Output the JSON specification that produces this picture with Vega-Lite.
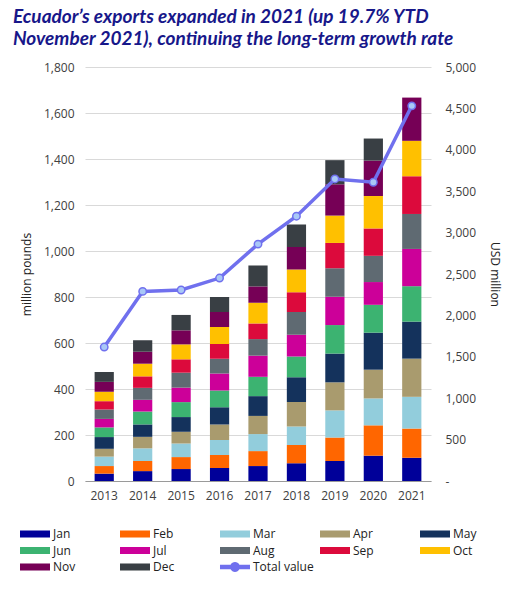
{
  "$schema": "https://vega.github.io/schema/vega-lite/v6.json",
  "width": 346,
  "height": 414,
  "autosize": {"type": "none"},
  "padding": {"left": 85, "top": 67, "right": 79, "bottom": 110},
  "background": "white",
  "title": {
    "text": ["Ecuador’s exports expanded in 2021 (up 19.7% YTD", "November 2021), continuing the long-term growth rate"],
    "anchor": "start",
    "frame": "group",
    "dx": -72,
    "offset": 12,
    "font": "Lato",
    "fontSize": 19,
    "fontStyle": "italic",
    "fontWeight": "bold",
    "color": "#17178a",
    "lineHeight": 22
  },
  "config": {
    "view": {"stroke": null},
    "axis": {"labelFont": "Open Sans", "titleFont": "Open Sans", "labelFontSize": 12, "titleFontSize": 12, "labelColor": "#404040", "titleColor": "#222222", "titleFontWeight": "normal"}
  },
  "datasets": {
    "monthly": [
      {"year": 2013, "month": "Jan", "m": 1, "value": 32},
      {"year": 2013, "month": "Feb", "m": 2, "value": 33},
      {"year": 2013, "month": "Mar", "m": 3, "value": 41},
      {"year": 2013, "month": "Apr", "m": 4, "value": 34},
      {"year": 2013, "month": "May", "m": 5, "value": 51},
      {"year": 2013, "month": "Jun", "m": 6, "value": 42},
      {"year": 2013, "month": "Jul", "m": 7, "value": 37},
      {"year": 2013, "month": "Aug", "m": 8, "value": 41},
      {"year": 2013, "month": "Sep", "m": 9, "value": 36},
      {"year": 2013, "month": "Oct", "m": 10, "value": 41},
      {"year": 2013, "month": "Nov", "m": 11, "value": 43},
      {"year": 2013, "month": "Dec", "m": 12, "value": 43},
      {"year": 2014, "month": "Jan", "m": 1, "value": 43},
      {"year": 2014, "month": "Feb", "m": 2, "value": 44},
      {"year": 2014, "month": "Mar", "m": 3, "value": 55},
      {"year": 2014, "month": "Apr", "m": 4, "value": 50},
      {"year": 2014, "month": "May", "m": 5, "value": 54},
      {"year": 2014, "month": "Jun", "m": 6, "value": 56},
      {"year": 2014, "month": "Jul", "m": 7, "value": 51},
      {"year": 2014, "month": "Aug", "m": 8, "value": 52},
      {"year": 2014, "month": "Sep", "m": 9, "value": 50},
      {"year": 2014, "month": "Oct", "m": 10, "value": 55},
      {"year": 2014, "month": "Nov", "m": 11, "value": 52},
      {"year": 2014, "month": "Dec", "m": 12, "value": 50},
      {"year": 2015, "month": "Jan", "m": 1, "value": 52},
      {"year": 2015, "month": "Feb", "m": 2, "value": 52},
      {"year": 2015, "month": "Mar", "m": 3, "value": 59},
      {"year": 2015, "month": "Apr", "m": 4, "value": 51},
      {"year": 2015, "month": "May", "m": 5, "value": 64},
      {"year": 2015, "month": "Jun", "m": 6, "value": 65},
      {"year": 2015, "month": "Jul", "m": 7, "value": 63},
      {"year": 2015, "month": "Aug", "m": 8, "value": 65},
      {"year": 2015, "month": "Sep", "m": 9, "value": 58},
      {"year": 2015, "month": "Oct", "m": 10, "value": 65},
      {"year": 2015, "month": "Nov", "m": 11, "value": 61},
      {"year": 2015, "month": "Dec", "m": 12, "value": 67},
      {"year": 2016, "month": "Jan", "m": 1, "value": 56},
      {"year": 2016, "month": "Feb", "m": 2, "value": 57},
      {"year": 2016, "month": "Mar", "m": 3, "value": 65},
      {"year": 2016, "month": "Apr", "m": 4, "value": 68},
      {"year": 2016, "month": "May", "m": 5, "value": 75},
      {"year": 2016, "month": "Jun", "m": 6, "value": 72},
      {"year": 2016, "month": "Jul", "m": 7, "value": 74},
      {"year": 2016, "month": "Aug", "m": 8, "value": 64},
      {"year": 2016, "month": "Sep", "m": 9, "value": 65},
      {"year": 2016, "month": "Oct", "m": 10, "value": 74},
      {"year": 2016, "month": "Nov", "m": 11, "value": 65},
      {"year": 2016, "month": "Dec", "m": 12, "value": 65},
      {"year": 2017, "month": "Jan", "m": 1, "value": 65},
      {"year": 2017, "month": "Feb", "m": 2, "value": 65},
      {"year": 2017, "month": "Mar", "m": 3, "value": 74},
      {"year": 2017, "month": "Apr", "m": 4, "value": 79},
      {"year": 2017, "month": "May", "m": 5, "value": 86},
      {"year": 2017, "month": "Jun", "m": 6, "value": 84},
      {"year": 2017, "month": "Jul", "m": 7, "value": 92},
      {"year": 2017, "month": "Aug", "m": 8, "value": 72},
      {"year": 2017, "month": "Sep", "m": 9, "value": 68},
      {"year": 2017, "month": "Oct", "m": 10, "value": 90},
      {"year": 2017, "month": "Nov", "m": 11, "value": 71},
      {"year": 2017, "month": "Dec", "m": 12, "value": 91},
      {"year": 2018, "month": "Jan", "m": 1, "value": 77},
      {"year": 2018, "month": "Feb", "m": 2, "value": 79},
      {"year": 2018, "month": "Mar", "m": 3, "value": 81},
      {"year": 2018, "month": "Apr", "m": 4, "value": 107},
      {"year": 2018, "month": "May", "m": 5, "value": 107},
      {"year": 2018, "month": "Jun", "m": 6, "value": 90},
      {"year": 2018, "month": "Jul", "m": 7, "value": 95},
      {"year": 2018, "month": "Aug", "m": 8, "value": 99},
      {"year": 2018, "month": "Sep", "m": 9, "value": 86},
      {"year": 2018, "month": "Oct", "m": 10, "value": 99},
      {"year": 2018, "month": "Nov", "m": 11, "value": 97},
      {"year": 2018, "month": "Dec", "m": 12, "value": 98},
      {"year": 2019, "month": "Jan", "m": 1, "value": 87},
      {"year": 2019, "month": "Feb", "m": 2, "value": 102},
      {"year": 2019, "month": "Mar", "m": 3, "value": 118},
      {"year": 2019, "month": "Apr", "m": 4, "value": 122},
      {"year": 2019, "month": "May", "m": 5, "value": 125},
      {"year": 2019, "month": "Jun", "m": 6, "value": 124},
      {"year": 2019, "month": "Jul", "m": 7, "value": 123},
      {"year": 2019, "month": "Aug", "m": 8, "value": 124},
      {"year": 2019, "month": "Sep", "m": 9, "value": 110},
      {"year": 2019, "month": "Oct", "m": 10, "value": 119},
      {"year": 2019, "month": "Nov", "m": 11, "value": 136},
      {"year": 2019, "month": "Dec", "m": 12, "value": 105},
      {"year": 2020, "month": "Jan", "m": 1, "value": 110},
      {"year": 2020, "month": "Feb", "m": 2, "value": 132},
      {"year": 2020, "month": "Mar", "m": 3, "value": 117},
      {"year": 2020, "month": "Apr", "m": 4, "value": 125},
      {"year": 2020, "month": "May", "m": 5, "value": 161},
      {"year": 2020, "month": "Jun", "m": 6, "value": 121},
      {"year": 2020, "month": "Jul", "m": 7, "value": 99},
      {"year": 2020, "month": "Aug", "m": 8, "value": 114},
      {"year": 2020, "month": "Sep", "m": 9, "value": 119},
      {"year": 2020, "month": "Oct", "m": 10, "value": 141},
      {"year": 2020, "month": "Nov", "m": 11, "value": 154},
      {"year": 2020, "month": "Dec", "m": 12, "value": 96},
      {"year": 2021, "month": "Jan", "m": 1, "value": 101},
      {"year": 2021, "month": "Feb", "m": 2, "value": 127},
      {"year": 2021, "month": "Mar", "m": 3, "value": 138},
      {"year": 2021, "month": "Apr", "m": 4, "value": 166},
      {"year": 2021, "month": "May", "m": 5, "value": 161},
      {"year": 2021, "month": "Jun", "m": 6, "value": 154},
      {"year": 2021, "month": "Jul", "m": 7, "value": 162},
      {"year": 2021, "month": "Aug", "m": 8, "value": 152},
      {"year": 2021, "month": "Sep", "m": 9, "value": 164},
      {"year": 2021, "month": "Oct", "m": 10, "value": 154},
      {"year": 2021, "month": "Nov", "m": 11, "value": 188}
    ],
    "totals": [
      {"year": 2013, "usd": 1618},
      {"year": 2014, "usd": 2290},
      {"year": 2015, "usd": 2307},
      {"year": 2016, "usd": 2451},
      {"year": 2017, "usd": 2861},
      {"year": 2018, "usd": 3198},
      {"year": 2019, "usd": 3648},
      {"year": 2020, "usd": 3608},
      {"year": 2021, "usd": 4531}
    ]
  },
  "encoding": {
    "x": {
      "field": "year",
      "type": "ordinal",
      "scale": {"paddingInner": 0.5, "paddingOuter": 0.25},
      "axis": {"title": null, "labelAngle": 0, "ticks": false, "domainColor": "#9a9a9a", "labelPadding": 9, "grid": false}
    }
  },
  "layer": [
    {
      "data": {"name": "monthly"},
      "mark": {"type": "bar"},
      "encoding": {
        "y": {
          "field": "value",
          "type": "quantitative",
          "stack": "zero",
          "scale": {"domain": [0, 1800]},
          "axis": {
            "title": "million pounds",
            "values": [0, 200, 400, 600, 800, 1000, 1200, 1400, 1600, 1800],
            "format": ",.0f",
            "domain": false,
            "ticks": false,
            "labelPadding": 11,
            "titlePadding": 10,
            "gridColor": "#d9d9d9"
          }
        },
        "color": {
          "field": "month",
          "type": "nominal",
          "scale": {
            "domain": ["Jan", "Feb", "Mar", "Apr", "May", "Jun", "Jul", "Aug", "Sep", "Oct", "Nov", "Dec", "Total value"],
            "range": ["#000099", "#ff6600", "#92cddc", "#a99b6e", "#14325c", "#3cb371", "#cc0099", "#5f6a72", "#dc0a3c", "#ffc000", "#760056", "#393f44", "#7070ee"]
          },
          "legend": {
            "title": null,
            "orient": "none",
            "legendX": -59,
            "legendY": 458,
            "direction": "horizontal",
            "columns": 5,
            "gridAlign": "all",
            "columnPadding": 5,
            "rowPadding": 1.5,
            "symbolSize": 324,
            "labelOffset": 9,
            "labelFont": "Open Sans",
            "labelFontSize": 12,
            "labelColor": "#222222",
            "encode": {
              "symbols": {
                "update": {
                  "shape": {"signal": "datum.value === 'Total value' ? 'M-1.667,-0.25H-0.49A0.55,0.55 0 0 1 0.49,-0.25H1.667V0.25H0.49A0.55,0.55 0 0 1 -0.49,0.25H-1.667Z' : 'M-1.667,-0.39H1.667V0.39H-1.667Z'"},
                  "fill": {"scale": "color", "field": "value"},
                  "strokeWidth": {"value": 0},
                  "opacity": {"value": 1}
                }
              }
            }
          }
        },
        "order": {"field": "m", "type": "quantitative"}
      }
    },
    {
      "data": {"name": "totals"},
      "encoding": {
        "y": {
          "field": "usd",
          "type": "quantitative",
          "scale": {"domain": [0, 5000]},
          "axis": {
            "title": "USD million",
            "orient": "right",
            "values": [0, 500, 1000, 1500, 2000, 2500, 3000, 3500, 4000, 4500, 5000],
            "labelExpr": "datum.value === 0 ? '-' : format(datum.value, ',')",
            "grid": false,
            "domain": false,
            "ticks": false,
            "labelPadding": 14,
            "titlePadding": 12
          }
        }
      },
      "layer": [
        {
          "mark": {"type": "line", "strokeWidth": 3.5},
          "encoding": {"color": {"datum": "Total value"}}
        },
        {
          "mark": {"type": "point", "filled": true, "size": 55, "fill": "#a9c8f7", "stroke": "#7070ee", "strokeWidth": 1.5, "opacity": 1}
        }
      ]
    }
  ],
  "resolve": {"scale": {"y": "independent"}}
}
